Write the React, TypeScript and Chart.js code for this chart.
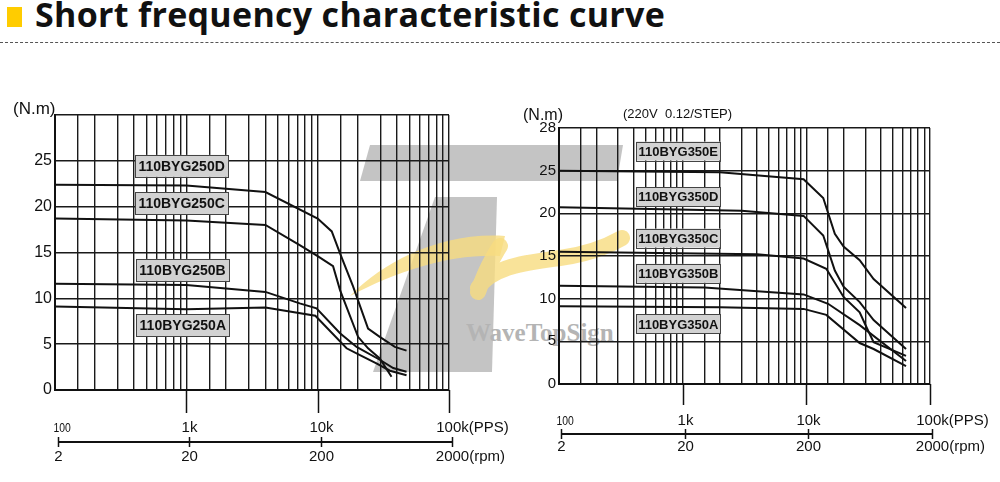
import React, { useEffect, useRef } from 'react';
import { Chart, registerables } from 'chart.js';

Chart.register(...registerables);

// ---------- DATA ----------
// x: frequency (PPS), y: torque (N.m)
const ppsTickValues = [100, 1000, 10000, 100000];
const ppsTickLabels = ['100', '1k', '10k', '100k'];
const rpmTickLabels = ['2', '20', '200', '2000'];
const minorFactors = [1, 1.5, 2, 3, 4, 5, 6, 7, 8, 9];
const yTickValues = [0, 5, 10, 15, 20, 25, 30];

// Left chart: 110BYG250 series
const freq250D = [100, 1000, 4000, 10000, 12800, 14800, 18600, 24200, 29700, 38700, 47500];
const torque250D = [22.4, 22.3, 21.6, 18.7, 17.3, 14.9, 11.3, 6.7, 5.8, 4.7, 4.3];
const freq250C = [100, 1000, 4000, 7300, 10000, 13100, 14800, 20300, 24200, 29700, 36500];
const torque250C = [18.7, 18.5, 18.0, 15.8, 14.6, 13.5, 10.9, 5.8, 4.55, 3.45, 1.45];
const freq250B = [100, 1000, 4000, 7300, 9800, 14800, 19800, 29700, 37600, 47500];
const torque250B = [11.6, 11.45, 10.7, 9.45, 8.9, 6.2, 4.7, 3.3, 2.4, 2.0];
const freq250A = [100, 1000, 4000, 9600, 16600, 21000, 28000, 35500, 47500];
const torque250A = [9.1, 8.8, 9.0, 8.1, 4.55, 3.8, 2.9, 2.1, 1.6];

// Right chart: 110BYG350 series
const freq350E = [100, 2000, 9500, 13700, 17000, 20000, 27000, 35000, 64000];
const torque350E = [25.0, 24.8, 24.0, 21.8, 17.6, 16.1, 14.5, 12.3, 8.9];
const freq350D = [100, 3000, 9500, 13700, 17000, 20000, 27000, 35000, 64000];
const torque350D = [20.7, 20.3, 19.7, 17.4, 13.3, 11.4, 9.6, 7.5, 4.1];
const freq350C = [100, 4000, 9500, 14500, 20000, 27000, 31000, 35000, 64000];
const torque350C = [15.5, 15.2, 14.7, 13.5, 10.2, 8.4, 6.5, 4.9, 3.3];
const freq350B = [100, 1500, 9500, 15000, 27000, 64000];
const torque350B = [11.5, 11.3, 10.5, 9.4, 6.9, 2.7];
const freq350A = [100, 2000, 9500, 14500, 27000, 35000, 64000];
const torque350A = [9.1, 9.0, 8.8, 8.1, 4.8, 4.1, 2.1];

const leftNames = ['110BYG250D', '110BYG250C', '110BYG250B', '110BYG250A'];
const rightNames = ['110BYG350E', '110BYG350D', '110BYG350C', '110BYG350B', '110BYG350A'];

// ---------- helpers ----------
const zip = (xs: number[], ys: number[]) => xs.map((x, i) => ({ x, y: ys[i] }));

const gridTicks = ppsTickValues
  .slice(0, 3)
  .flatMap((d) => minorFactors.map((f) => d * f))
  .concat([ppsTickValues[3]]);

const FONT = '"Liberation Sans", Arial, Helvetica, sans-serif';

type Box = { text: string; x: number; y: number };

const overlayPlugin = {
  id: 'overlay',
  afterDatasetsDraw(chart: any, _args: any, opts: any) {
    const { ctx, scales } = chart;
    const xs = scales.x;
    const ys = scales.y;
    ctx.save();
    (opts.boxes as Box[]).forEach((b) => {
      const cx = xs.getPixelForValue(b.x);
      const cy = ys.getPixelForValue(b.y);
      const w = opts.boxW;
      const h = opts.boxH;
      ctx.fillStyle = '#d2d2d2';
      ctx.fillRect(cx - w / 2, cy - h / 2, w, h);
      ctx.strokeStyle = '#444';
      ctx.lineWidth = 1;
      ctx.strokeRect(Math.round(cx - w / 2) + 0.5, Math.round(cy - h / 2) + 0.5, w, h);
      ctx.fillStyle = '#111';
      ctx.font = `bold ${opts.boxFont}px ${FONT}`;
      ctx.textAlign = 'center';
      ctx.textBaseline = 'middle';
      ctx.fillText(b.text, cx, cy + 1);
    });
    ctx.restore();
  },
  afterDraw(chart: any, _args: any, opts: any) {
    const { ctx, chartArea, scales } = chart;
    const xs = scales.x;
    ctx.save();
    ctx.strokeStyle = '#111';
    ctx.fillStyle = '#111';
    // decade marks below the plot
    ctx.lineWidth = 1.5;
    ppsTickValues.slice(1).forEach((v) => {
      const px = Math.round(xs.getPixelForValue(v)) + 0.5;
      ctx.beginPath();
      ctx.moveTo(px, chartArea.bottom);
      ctx.lineTo(px, chartArea.bottom + opts.dropLen);
      ctx.stroke();
    });
    // secondary scale line (PPS above, rpm below)
    const ly = opts.lineY;
    const x0 = xs.getPixelForValue(ppsTickValues[0]) + opts.shift;
    const x1 = xs.getPixelForValue(ppsTickValues[3]) + opts.shift;
    ctx.lineWidth = 2;
    ctx.beginPath();
    ctx.moveTo(x0, ly);
    ctx.lineTo(x1, ly);
    ctx.stroke();
    ctx.lineWidth = 1.5;
    ppsTickValues.forEach((v, i) => {
      const px = Math.round(xs.getPixelForValue(v) + opts.shift) + 0.5;
      ctx.beginPath();
      ctx.moveTo(px, ly - 5);
      ctx.lineTo(px, ly + 5);
      ctx.stroke();
      ctx.textBaseline = 'alphabetic';
      ctx.textAlign = 'left';
      const top = ppsTickLabels[i];
      ctx.font = i === 0 ? `${opts.smallFont}px ${FONT}` : `${opts.labelFont}px ${FONT}`;
      if (i === 0) {
        ctx.save();
        ctx.translate(px - 5, ly - opts.topGap);
        ctx.scale(0.8, 1.05);
        ctx.fillText(top, 0, 0);
        ctx.restore();
      } else {
        const w = ctx.measureText(top).width;
        ctx.fillText(top + (i === 3 ? '(PPS)' : ''), px - w / 2, ly - opts.topGap);
      }
      const bot = rpmTickLabels[i];
      ctx.font = `${opts.labelFont}px ${FONT}`;
      const wb = ctx.measureText(bot).width;
      ctx.fillText(bot + (i === 3 ? '(rpm)' : ''), px - wb / 2, ly + opts.botGap);
    });
    ctx.restore();
  },
};

function makeConfig(p: {
  series: { name: string; data: { x: number; y: number }[] }[];
  pad: { top: number; right: number; bottom: number };
  yWidth: number;
  yFont: number;
  yPad: number;
  topLabel: string;
  overlay: any;
}) {
  return {
    type: 'line',
    data: {
      datasets: p.series.map((s) => ({
        label: s.name,
        data: s.data,
        borderColor: '#111',
        borderWidth: 2,
        pointRadius: 0,
        tension: 0,
        fill: false,
      })),
    },
    options: {
      responsive: false,
      animation: false,
      devicePixelRatio: 1,
      events: [],
      layout: { padding: { left: 0, top: p.pad.top, right: p.pad.right, bottom: p.pad.bottom } },
      plugins: {
        legend: { display: false },
        tooltip: { enabled: false },
        title: { display: false },
        overlay: p.overlay,
      },
      scales: {
        x: {
          type: 'logarithmic',
          min: 100,
          max: 100000,
          afterBuildTicks: (s: any) => {
            s.ticks = gridTicks.map((v) => ({ value: v }));
          },
          afterFit: (s: any) => {
            s.height = 0;
          },
          ticks: { display: false },
          grid: { color: '#1a1a1a', lineWidth: 1.4, drawTicks: false },
          border: { display: true, color: '#111', width: 2 },
        },
        y: {
          type: 'linear',
          min: 0,
          max: 30,
          afterBuildTicks: (s: any) => {
            s.ticks = yTickValues.map((v) => ({ value: v }));
          },
          afterFit: (s: any) => {
            s.width = p.yWidth;
          },
          ticks: {
            padding: p.yPad,
            color: '#111',
            font: { family: FONT, size: p.yFont },
            callback: (v: number) => (v === 30 ? p.topLabel : String(v)),
          },
          grid: { color: '#1a1a1a', lineWidth: 1.4, drawTicks: false },
          border: { display: true, color: '#111', width: 2 },
        },
      },
    },
    plugins: [overlayPlugin],
  };
}

function ChartCanvas({ config }: { config: any }) {
  const ref = useRef<HTMLCanvasElement | null>(null);
  useEffect(() => {
    if (!ref.current) return;
    const chart = new Chart(ref.current, config);
    return () => chart.destroy();
  }, [config]);
  return (
    <canvas
      ref={ref}
      width={1000}
      height={482}
      style={{ position: 'absolute', left: 0, top: 0, width: 1000, height: 482 }}
    />
  );
}

const leftBoxes: Box[] = [
  { text: leftNames[0], x: 920, y: 24.45 },
  { text: leftNames[1], x: 920, y: 20.36 },
  { text: leftNames[2], x: 935, y: 13.1 },
  { text: leftNames[3], x: 940, y: 7.04 },
];

const leftConfig = makeConfig({
  series: [
    { name: leftNames[0], data: zip(freq250D, torque250D) },
    { name: leftNames[1], data: zip(freq250C, torque250C) },
    { name: leftNames[2], data: zip(freq250B, torque250B) },
    { name: leftNames[3], data: zip(freq250A, torque250A) },
  ],
  pad: { top: 115, right: 551, bottom: 92 },
  yWidth: 55,
  yFont: 16,
  yPad: 3,
  topLabel: '',
  overlay: {
    boxes: leftBoxes,
    boxW: 93,
    boxH: 22,
    boxFont: 14,
    dropLen: 23,
    lineY: 442,
    shift: 3,
    labelFont: 15,
    smallFont: 13,
    topGap: 10,
    botGap: 19,
  },
});

const rightBoxes: Box[] = [
  { text: rightNames[0], x: 921, y: 27.3 },
  { text: rightNames[1], x: 921, y: 21.96 },
  { text: rightNames[2], x: 921, y: 17.1 },
  { text: rightNames[3], x: 921, y: 12.97 },
  { text: rightNames[4], x: 921, y: 7.04 },
];

const rightConfig = makeConfig({
  series: [
    { name: rightNames[0], data: zip(freq350E, torque350E) },
    { name: rightNames[1], data: zip(freq350D, torque350D) },
    { name: rightNames[2], data: zip(freq350C, torque350C) },
    { name: rightNames[3], data: zip(freq350B, torque350B) },
    { name: rightNames[4], data: zip(freq350A, torque350A) },
  ],
  pad: { top: 128, right: 70, bottom: 98 },
  yWidth: 559,
  yFont: 15,
  yPad: 3,
  topLabel: '28',
  overlay: {
    boxes: rightBoxes,
    boxW: 84,
    boxH: 19,
    boxFont: 13,
    dropLen: 21,
    lineY: 434,
    shift: 2,
    labelFont: 15,
    smallFont: 13,
    topGap: 9,
    botGap: 17,
  },
});

function Watermark() {
  return (
    <svg
      width={1000}
      height={482}
      style={{ position: 'absolute', left: 0, top: 0 }}
      xmlns="http://www.w3.org/2000/svg"
    >
      <polygon points="370,145 623,145 617,181 360,181" fill="#c4c4c4" />
      <polygon points="435,197 497,197 492,372 373,372" fill="#c4c4c4" />
      <path
        d="M350,296 C390,255 450,232 505,236 L500,256 C450,254 400,270 350,296 Z"
        fill="#f7dc80"
        opacity={0.8}
      />
      <path
        d="M500,246 Q486,268 478,292 M478,288 C492,266 530,262 560,258 C590,254 608,246 622,238"
        stroke="#f7dc80"
        strokeWidth={16}
        fill="none"
        opacity={0.8}
        strokeLinecap="round"
      />
      <text
        x={466}
        y={341}
        fontFamily='"Liberation Serif", "DejaVu Serif", serif'
        fontWeight="bold"
        fontSize={25}
        fill="#b4b4b4"
      >
        WaveTopSign
      </text>
    </svg>
  );
}

export default function App() {
  const textStyle: React.CSSProperties = {
    position: 'absolute',
    fontFamily: FONT,
    color: '#111',
    whiteSpace: 'nowrap',
    lineHeight: 1,
  };
  return (
    <div
      style={{
        position: 'absolute',
        left: 0,
        top: 0,
        width: 1000,
        height: 482,
        background: '#fff',
        overflow: 'hidden',
      }}
    >
      <Watermark />
      <div style={{ position: 'absolute', left: 7, top: 7, width: 15, height: 20, background: '#ffcc00' }} />
      <div
        style={{
          position: 'absolute',
          left: 35,
          top: -3,
          fontFamily: '"Open Sans", "Noto Sans", sans-serif',
          fontWeight: 700,
          fontSize: 34,
          lineHeight: '34px',
          letterSpacing: '0.3px',
          color: '#111',
          whiteSpace: 'nowrap',
        }}
      >
        Short frequency characteristic curve
      </div>
      <div
        style={{
          position: 'absolute',
          left: 0,
          top: 42,
          width: 1000,
          height: 0,
          borderTop: '1px dashed #555',
        }}
      />
      <ChartCanvas config={leftConfig} />
      <ChartCanvas config={rightConfig} />
      <div style={{ ...textStyle, left: 13, top: 100, fontSize: 17 }}>(N.m)</div>
      <div style={{ ...textStyle, left: 523, top: 107, fontSize: 16 }}>(N.m)</div>
      <div style={{ ...textStyle, left: 623, top: 107, fontSize: 13 }}>(220V&nbsp;&nbsp;0.12/STEP)</div>
    </div>
  );
}
